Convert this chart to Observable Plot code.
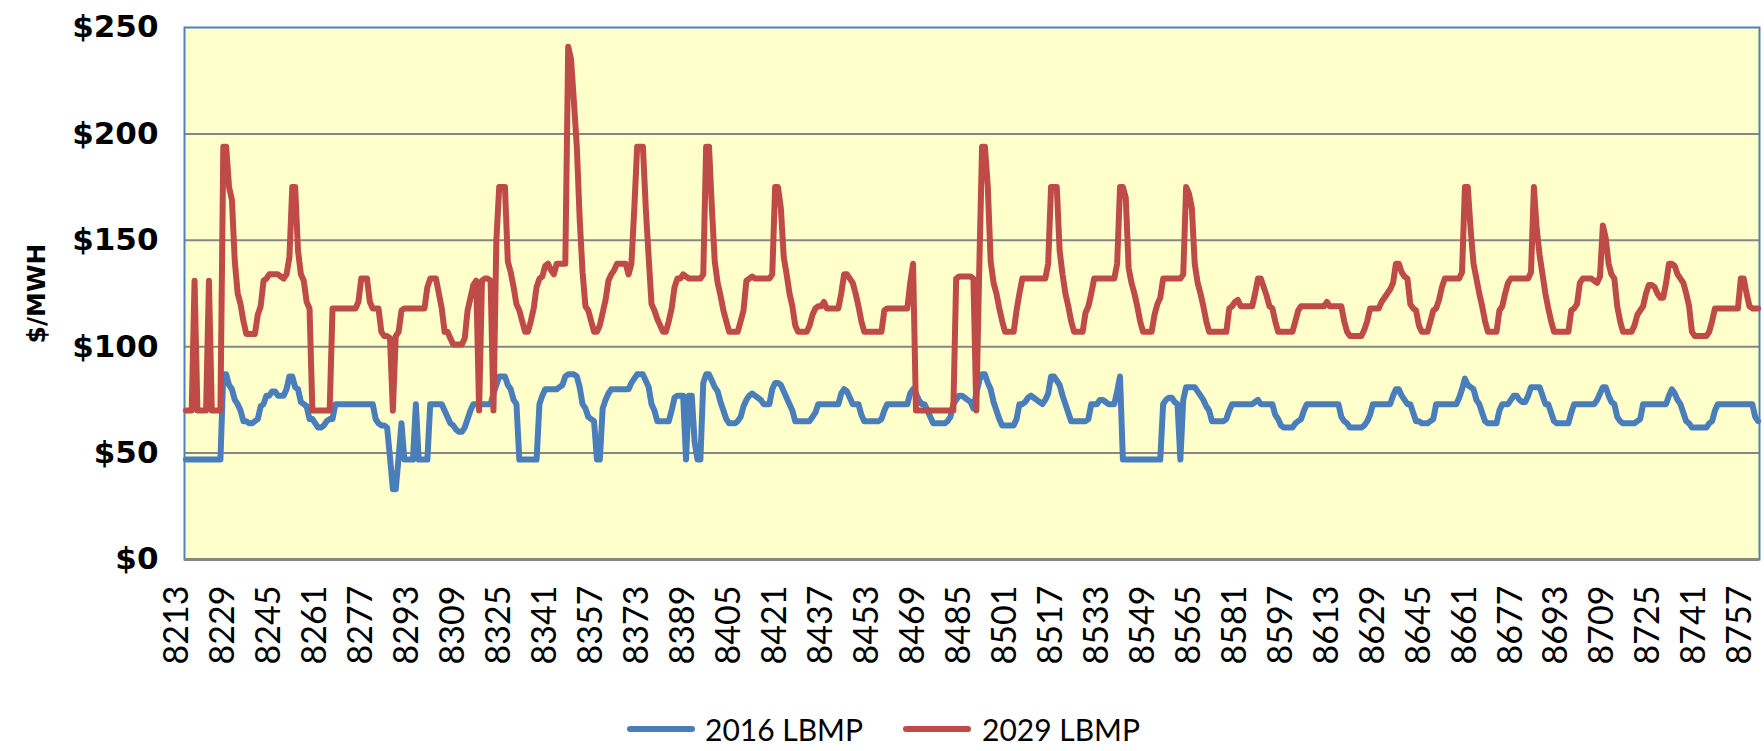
<!DOCTYPE html>
<html><head><meta charset="utf-8">
<script src="https://cdn.jsdelivr.net/npm/d3@7"></script>
<script src="https://cdn.jsdelivr.net/npm/@observablehq/plot@0.6"></script>
<style>
html,body{margin:0;padding:0;background:#fff;}
#wrap{position:relative;width:1764px;height:751px;overflow:hidden;background:#fff;}
#chart svg{display:block;}
.sw{position:absolute;height:6px;border-radius:3px;}
.lt{position:absolute;font-family:Lato, sans-serif;font-size:30px;line-height:40px;color:#000;white-space:nowrap;}
</style></head><body>
<div id="wrap"><div id="chart"></div><div id="legend"></div></div>
<script>
const startHour = 8213;
const seriesNames = ["2016 LBMP", "2029 LBMP"];
const seriesColors = ["#4A7EBB", "#BE4B48"];
const yTicks = [0, 50, 100, 150, 200, 250];
const gridValues = [50, 100, 150, 200];
const xTicks = [8213,8229,8245,8261,8277,8293,8309,8325,8341,8357,8373,8389,8405,8421,8437,8453,8469,8485,8501,8517,8533,8549,8565,8581,8597,8613,8629,8645,8661,8677,8693,8709,8725,8741,8757];

const lbmp2016 = [
47,47,47,47,47,47,47,47,47,47,47,47,47,87,87,82,80,75,73,70,65,65,64,64,
65,66,72,73,77,77,79,79,77,77,77,80,86,86,81,80,74,73,72,66,66,64,62,62,
63,65,66,66,73,73,73,73,73,73,73,73,73,73,73,73,73,73,66,64,63,63,62,48,
33,33,48,64,47,47,47,47,73,47,47,47,47,73,73,73,73,73,70,67,64,63,61,60,
60,62,66,70,73,73,73,73,73,73,73,78,82,86,86,86,82,80,75,73,47,47,47,47,
47,47,47,73,77,80,80,80,80,80,81,82,86,87,87,87,86,81,73,71,67,66,65,47,
47,71,75,78,80,80,80,80,80,80,80,83,85,87,87,87,84,81,73,70,65,65,65,65,
65,70,76,77,77,77,47,77,77,55,47,47,83,87,87,84,81,79,74,70,66,64,64,64,
65,67,72,75,77,78,77,76,75,73,73,73,80,83,83,82,79,76,73,70,65,65,65,65,
65,65,67,69,73,73,73,73,73,73,73,73,78,80,79,76,73,73,73,68,65,65,65,65,
65,65,66,70,73,73,73,73,73,73,73,73,78,80,78,75,73,73,70,67,64,64,64,64,
64,65,67,73,75,77,77,76,75,74,71,78,84,87,87,83,80,74,70,66,63,63,63,63,
63,66,73,73,74,76,77,76,75,74,73,75,78,86,86,84,82,77,73,69,65,65,65,65,
65,65,66,73,73,73,75,75,74,73,73,73,79,86,47,47,47,47,47,47,47,47,47,47,
47,47,47,47,73,75,76,76,74,73,47,75,81,81,81,81,79,77,75,72,70,65,65,65,
65,65,66,70,73,73,73,73,73,73,73,73,74,75,73,73,73,73,73,68,66,63,62,62,
62,62,64,65,66,70,73,73,73,73,73,73,73,73,73,73,73,73,67,65,64,62,62,62,
62,62,63,65,68,73,73,73,73,73,73,73,77,80,80,77,75,73,73,69,65,65,64,64,
64,65,66,73,73,73,73,73,73,73,73,76,80,85,82,81,80,75,73,69,65,64,64,64,
64,70,73,73,73,75,77,77,75,74,74,77,81,81,81,81,77,73,73,69,65,64,64,64,
64,64,69,73,73,73,73,73,73,73,73,75,78,81,81,77,74,73,67,65,64,64,64,64,
64,65,66,73,73,73,73,73,73,73,73,73,77,80,78,75,73,69,65,64,62,62,62,62,
62,62,64,65,70,73,73,73,73,73,73,73,73,73,73,73,73,73,67,65
];

const lbmp2029 = [
70,70,70,131,70,70,70,70,131,70,70,70,70,194,194,175,169,140,125,120,112,106,106,106,
106,115,119,131,132,134,134,134,134,133,132,134,142,175,175,145,134,131,121,118,70,70,70,70,
70,70,70,118,118,118,118,118,118,118,118,118,121,132,132,132,121,118,118,118,107,105,105,104,
70,105,107,117,118,118,118,118,118,118,118,118,128,132,132,132,125,118,107,107,104,101,101,101,
101,104,117,123,129,131,70,131,132,132,131,70,150,175,175,175,140,135,128,120,117,112,107,107,
112,118,128,132,133,138,139,136,134,139,139,139,139,241,235,215,194,160,135,119,117,112,107,107,
110,116,122,131,134,136,139,139,139,139,134,139,165,194,194,194,165,142,120,117,113,110,107,107,
112,118,128,132,132,134,133,132,132,132,132,132,134,194,194,165,140,130,124,117,112,107,107,107,
107,112,117,131,132,133,132,132,132,132,132,132,134,175,175,165,142,134,125,119,110,107,107,107,
107,110,115,118,119,119,121,118,118,118,118,118,125,134,134,132,130,125,119,112,107,107,107,107,
107,107,107,117,118,118,118,118,118,118,118,118,130,139,70,70,70,70,70,70,70,70,70,70,
70,70,70,70,132,133,133,133,133,133,132,70,135,194,194,175,140,130,125,118,112,107,107,107,
107,117,125,132,132,132,132,132,132,132,132,132,139,175,175,175,145,134,125,119,112,107,107,107,
107,116,119,125,132,132,132,132,132,132,132,132,139,175,175,170,137,130,125,119,112,107,107,107,
107,115,120,123,132,132,132,132,132,132,132,134,175,172,165,139,130,125,119,112,107,107,107,107,
107,107,107,118,119,121,122,119,119,119,119,119,125,132,132,128,124,119,118,112,107,107,107,107,
107,107,112,117,119,119,119,119,119,119,119,119,119,121,119,119,119,119,119,112,107,105,105,105,
105,105,108,112,118,118,118,118,121,123,125,127,130,139,139,135,133,132,120,118,117,110,107,107,
107,112,117,118,122,128,132,132,132,132,132,132,135,175,175,155,139,132,125,119,112,107,107,107,
107,117,119,125,130,132,132,132,132,132,132,132,135,175,155,143,134,125,118,112,107,107,107,107,
107,107,117,118,120,130,132,132,132,132,131,130,133,157,151,139,134,132,119,112,107,107,107,107,
110,115,117,119,125,129,129,128,125,123,123,130,139,139,138,134,132,130,125,119,107,105,105,105,
105,105,107,112,118,118,118,118,118,118,118,118,118,132,132,125,119,118,118,118
];

const seriesValues = [lbmp2016, lbmp2029];
const rows = [];
seriesValues.forEach((vals, k) => vals.forEach((v, i) => rows.push({hour: startHour + i, value: v, series: seriesNames[k]})));

const chart = Plot.plot({
  width: 1764, height: 680,
  marginLeft: 184, marginRight: 5, marginTop: 27, marginBottom: 121,
  style: {background: "transparent", overflow: "visible"},
  x: {domain: [startHour - 0.5, startHour + lbmp2016.length - 0.5], axis: null},
  y: {domain: [0, 250], axis: null},
  color: {domain: seriesNames, range: seriesColors},
  marks: [
    Plot.frame({fill: "#FFFFCC", stroke: "none"}),
    Plot.ruleY(gridValues, {stroke: "#868686", strokeWidth: 2}),
    Plot.frame({stroke: "#4F81BD", strokeWidth: 2}),
    Plot.ruleY([0], {stroke: "#868686", strokeWidth: 3}),
    Plot.line(rows, {x: "hour", y: "value", z: "series", stroke: "series", strokeWidth: 6, strokeLinejoin: "round", strokeLinecap: "round"}),
    Plot.text(yTicks, {y: d => d, text: d => "$" + d, frameAnchor: "left", dx: -26, textAnchor: "end", fontSize: 31, fontWeight: "bold", fontFamily: "DejaVu Sans", fill: "#000"}),
    Plot.text(xTicks, {x: d => d, text: d => String(d), frameAnchor: "bottom", dy: 26, dx: 2, rotate: -90, textAnchor: "end", fontSize: 34, fontFamily: "Lato", fill: "#000"}),
    Plot.text(["$/MWH"], {frameAnchor: "left", dx: -148, rotate: -90, textAnchor: "middle", fontSize: 25, fontWeight: "bold", fontFamily: "DejaVu Sans", fill: "#000"})
  ]
});
document.getElementById("chart").appendChild(chart);

const legend = document.getElementById("legend");
const legendItems = [
  {name: seriesNames[0], color: seriesColors[0], swLeft: 627, txtLeft: 705},
  {name: seriesNames[1], color: seriesColors[1], swLeft: 903, txtLeft: 982}
];
legendItems.forEach(it => {
  const sw = document.createElement("div");
  sw.className = "sw";
  sw.style.left = it.swLeft + "px"; sw.style.top = "726px"; sw.style.width = "68px"; sw.style.background = it.color;
  legend.appendChild(sw);
  const t = document.createElement("div");
  t.className = "lt";
  t.style.left = it.txtLeft + "px"; t.style.top = "709px";
  t.textContent = it.name;
  legend.appendChild(t);
});
</script>
</body></html>
